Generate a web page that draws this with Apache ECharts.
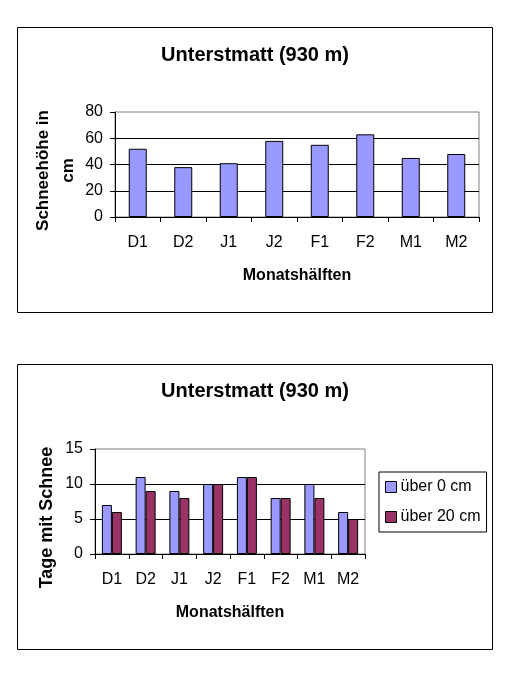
<!DOCTYPE html>
<html>
<head>
<meta charset="utf-8">
<script src="https://cdn.jsdelivr.net/npm/echarts@6/dist/echarts.min.js"></script>
<style>
html,body{margin:0;padding:0;background:#fff;}
#c{width:510px;height:700px;}
</style>
</head>
<body>
<div id="c"></div>
<script>
const categories = ['D1','D2','J1','J2','F1','F2','M1','M2'];
const schneehoehe = [52, 38, 41, 58, 55, 63, 45, 48];
const tageUeber0 = [7, 11, 9, 10, 11, 8, 10, 6];
const tageUeber20 = [6, 9, 8, 10, 11, 8, 8, 5];
const yTicks1 = {min: 0, max: 80, interval: 20};
const yTicks2 = {min: 0, max: 15, interval: 5};
const titleText = 'Unterstmatt (930 m)';

const FONT = 'Liberation Sans, Arial, sans-serif';
const chart = echarts.init(document.getElementById('c'), null, {renderer: 'canvas'});

function xAxisCfg(gi) {
  return {
    type: 'category', gridIndex: gi, data: categories,
    axisLine: {show: true, lineStyle: {color: '#000', width: 1}},
    axisTick: {show: true, length: 5, inside: false, lineStyle: {color: '#000'}},
    axisLabel: {color: '#000', fontFamily: FONT, fontSize: 16, margin: 18},
    name: 'Monatshälften', nameLocation: 'middle', nameGap: 51, nameMoveOverlap: false,
    nameTextStyle: {color: '#000', fontFamily: FONT, fontSize: 16, fontWeight: 'bold'},
    splitLine: {show: false}
  };
}
function yAxisCfg(gi, t, name, gap, shift, fs) {
  return {
    type: 'value', gridIndex: gi, min: t.min, max: t.max, interval: t.interval,
    axisLine: {show: true, lineStyle: {color: '#000', width: 1}},
    axisTick: {show: true, length: 5, inside: false, lineStyle: {color: '#000'}},
    axisLabel: {color: '#000', fontFamily: FONT, fontSize: 16, margin: 12},
    splitLine: {show: true, showMaxLine: false, showMinLine: false, lineStyle: {color: '#000', width: 1}},
    name: name, nameLocation: 'middle', nameGap: gap, nameRotate: 90, nameMoveOverlap: false,
    nameTextStyle: {color: '#000', fontFamily: FONT, fontSize: fs, fontWeight: 'bold', lineHeight: 25, align: 'center', padding: [0, shift, 0, 0]}
  };
}

chart.setOption({
  backgroundColor: '#fff',
  animation: false,
  graphic: [
    {type: 'rect', shape: {x: 17.5, y: 27.5, width: 475, height: 285}, style: {fill: 'none', stroke: '#000', lineWidth: 1}, z: 0},
    {type: 'rect', shape: {x: 17.5, y: 364.5, width: 475, height: 285}, style: {fill: 'none', stroke: '#000', lineWidth: 1}, z: 0}
  ],
  title: [
    {text: titleText, left: 'center', top: 40, textStyle: {color: '#000', fontFamily: FONT, fontSize: 20, fontWeight: 'bold'}},
    {text: titleText, left: 'center', top: 376, textStyle: {color: '#000', fontFamily: FONT, fontSize: 20, fontWeight: 'bold'}}
  ],
  legend: {
    show: true, orient: 'vertical', left: 379, top: 472,
    padding: [7, 6, 7, 6], itemGap: 14, itemWidth: 11, itemHeight: 11,
    borderColor: '#000', borderWidth: 1, backgroundColor: '#fff',
    icon: 'rect', itemStyle: {borderColor: '#000', borderWidth: 1},
    textStyle: {color: '#000', fontFamily: FONT, fontSize: 16, padding: [0, 0, 0, -1]},
    data: ['über 0 cm', 'über 20 cm']
  },
  grid: [
    {left: 115, top: 112, width: 364, height: 105, show: true, borderColor: '#808080', borderWidth: 1, backgroundColor: '#fff'},
    {left: 95, top: 449, width: 270, height: 105, show: true, borderColor: '#808080', borderWidth: 1, backgroundColor: '#fff'}
  ],
  xAxis: [xAxisCfg(0), xAxisCfg(1)],
  yAxis: [
    yAxisCfg(0, yTicks1, 'Schneehöhe in\ncm', 34, 12, 17),
    yAxisCfg(1, yTicks2, 'Tage mit Schnee', 35, 32, 18)
  ],
  series: [
    {type: 'bar', name: 'Schneehöhe', xAxisIndex: 0, yAxisIndex: 0, data: schneehoehe,
     barWidth: 18, itemStyle: {color: '#9999FF', borderColor: '#000', borderWidth: 1}},
    {type: 'bar', name: 'über 0 cm', xAxisIndex: 1, yAxisIndex: 1, data: tageUeber0,
     barWidth: 10, barGap: '0%', itemStyle: {color: '#9999FF', borderColor: '#000', borderWidth: 1}},
    {type: 'bar', name: 'über 20 cm', xAxisIndex: 1, yAxisIndex: 1, data: tageUeber20,
     barWidth: 10, barGap: '0%', itemStyle: {color: '#993366', borderColor: '#000', borderWidth: 1}}
  ]
});
</script>
</body>
</html>
